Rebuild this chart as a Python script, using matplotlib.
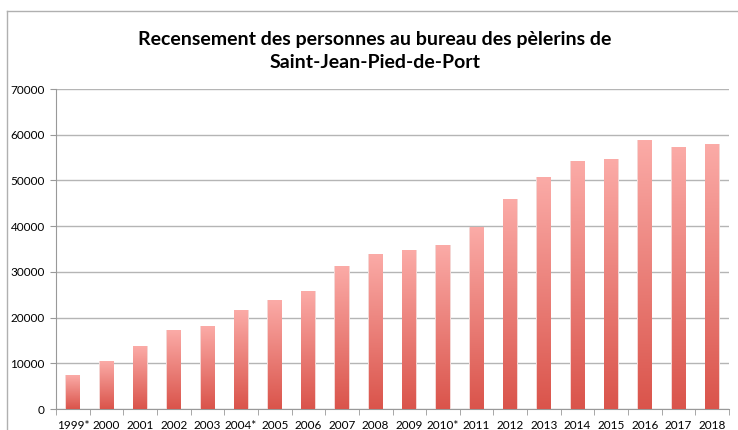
import numpy as np
import matplotlib.pyplot as plt
from matplotlib.colors import LinearSegmentedColormap
from matplotlib.lines import Line2D

# data
years = ["1999*", "2000", "2001", "2002", "2003", "2004*", "2005", "2006", "2007", "2008",
         "2009", "2010*", "2011", "2012", "2013", "2014", "2015", "2016", "2017", "2018"]
pilgrims = [7300, 10400, 13700, 17200, 18100, 21500, 23700, 25600, 31200, 33700,
            34700, 35700, 39700, 45800, 50600, 54200, 54600, 58800, 57200, 57800]
yticks = [0, 10000, 20000, 30000, 40000, 50000, 60000, 70000]

plt.rcParams['font.family'] = ['Lato', 'DejaVu Sans']

fig = plt.figure(figsize=(7.38, 4.30), dpi=100)
ax = fig.add_axes([56 / 738, 21 / 430, 673 / 738, 320 / 430])

# light pink at the top of each bar to red at the bottom
cmap = LinearSegmentedColormap.from_list("bar", ["#DA544B", "#FBABA7"])
grad = np.linspace(0, 1, 256).reshape(-1, 1)

x = np.arange(len(years))
bars = ax.bar(x, pilgrims, width=0.41, color="none", edgecolor="none", zorder=3)
for b in bars:
    x0, w, h = b.get_x(), b.get_width(), b.get_height()
    ax.imshow(grad, cmap=cmap, origin="lower", aspect="auto",
              extent=[x0, x0 + w, 0, h], zorder=3)
    ax.add_patch(plt.Rectangle((x0 - 0.02, 0), w + 0.04, h + 150, facecolor="#f4d6d4",
                               edgecolor="none", zorder=2))

ax.set_xlim(-0.5, len(years) - 0.5)
ax.set_ylim(0, 70000)
ax.set_yticks(yticks)
ax.set_yticklabels([str(v) for v in yticks])
ax.set_xticks(x)
ax.set_xticklabels(years)
ax.set_xticks(np.arange(-0.5, len(years), 1), minor=True)
ax.tick_params(axis="x", which="major", length=0, labelsize=8.5, pad=8)
ax.tick_params(axis="x", which="minor", length=4, color="#999999")
ax.tick_params(axis="y", length=4, color="#999999", labelsize=8.5, pad=4)

ax.grid(axis="y", color="#b5b5b5", linewidth=1, zorder=0)
for side in ["top", "right"]:
    ax.spines[side].set_visible(False)
for side in ["left", "bottom"]:
    ax.spines[side].set_color("#999999")

fig.text(0.508, 0.882, "Recensement des personnes au bureau des pèlerins de\nSaint-Jean-Pied-de-Port",
         ha="center", va="center", fontsize=14, fontweight="bold", linespacing=1.45)

# outer chart frame
fig.add_artist(Line2D([7 / 738, 1], [1 - 11 / 430, 1 - 11 / 430], color="#b0b0b0", lw=1))
fig.add_artist(Line2D([7 / 738, 7 / 738], [0, 1 - 11 / 430], color="#b0b0b0", lw=1))

fig.savefig("out.png", dpi=100)
